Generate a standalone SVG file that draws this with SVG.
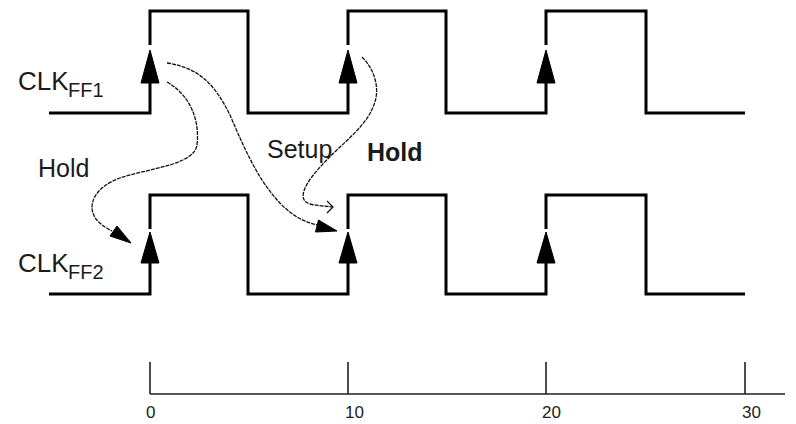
<svg xmlns="http://www.w3.org/2000/svg" width="796" height="424" viewBox="0 0 796 424">
<style>
.wave{fill:none;stroke:#000;stroke-width:3;stroke-linejoin:miter;stroke-linecap:butt}
.edge{fill:#000;stroke:#000;stroke-width:1;stroke-linejoin:round}
.lbl{font-family:"Liberation Sans",Arial,sans-serif;fill:#1a1a1a}
.curve{fill:none;stroke:#111;stroke-width:1.3;stroke-dasharray:4 1}
.head{fill:#000;stroke:#000;stroke-width:1}
.axis{fill:none;stroke:#222;stroke-width:1.6}
.tick{font-family:"Liberation Sans",Arial,sans-serif;font-size:17px;fill:#222}
</style>
<rect width="796" height="424" fill="#fff"/>
<g id="clk_ff1">
<text class="lbl" x="18" y="90" font-size="26">CLK<tspan x="68" y="97" font-size="20">FF1</tspan></text>
<path class="wave" d="M49,113 H150 V83 M150,45 V11 H248 V113 H348 V83 M348,45 V11 H446 V113 H546 V83 M546,45 V11 H646 V113 H745"/>
<polygon class="edge" points="150,50 141,83 159,83"/>
<polygon class="edge" points="348,50 339,83 357,83"/>
<polygon class="edge" points="546,50 537,83 555,83"/>
</g>
<g id="clk_ff2">
<text class="lbl" x="18" y="272" font-size="26">CLK<tspan x="68" y="279" font-size="20">FF2</tspan></text>
<path class="wave" d="M49,294 H150 V263 M150,229 V195 H248 V294 H348 V263 M348,229 V195 H446 V294 H546 V263 M546,229 V195 H646 V294 H745"/>
<polygon class="edge" points="150,232 141,263 159,263"/>
<polygon class="edge" points="348,232 339,263 357,263"/>
<polygon class="edge" points="546,232 537,263 555,263"/>
</g>
<g id="label_hold_left"><text class="lbl" x="38" y="177" font-size="25">Hold</text></g>
<g id="label_setup"><text class="lbl" x="267" y="158" font-size="25">Setup</text></g>
<g id="label_hold_bold"><text class="lbl" x="367" y="161" font-size="25" font-weight="bold">Hold</text></g>
<g id="connectors">
<path class="curve" d="M167,82 C190,95 200,120 197,145 C194,165 150,168 120,178 C95,187 86,205 96,219 C100,224 106,228 112,231"/>
<polygon class="head" points="131,243 110,236 117,226"/>
<path class="curve" d="M167,63 C200,68 215,85 230,115 C245,150 260,185 285,208 C295,217 305,222 317,225"/>
<polygon class="head" points="337,231 315.5,232 318.5,220"/>
<path class="curve" d="M362,57 C375,70 381,90 373,107 C365,128 340,145 322,165 C305,183 296,200 310,204 C318,206 326,206 333,207"/>
<path class="curve" style="stroke-dasharray:none" d="M327,201 L333,207 L327,213"/>
</g>
<g id="time_axis">
<path class="axis" d="M150,362 V394 M348,362 V394 M546,362 V394 M745,362 V394 M150,394 H785"/>
<text class="tick" x="146" y="418">0</text>
<text class="tick" x="345" y="418">10</text>
<text class="tick" x="542" y="418">20</text>
<text class="tick" x="742" y="418">30</text>
</g>
</svg>
